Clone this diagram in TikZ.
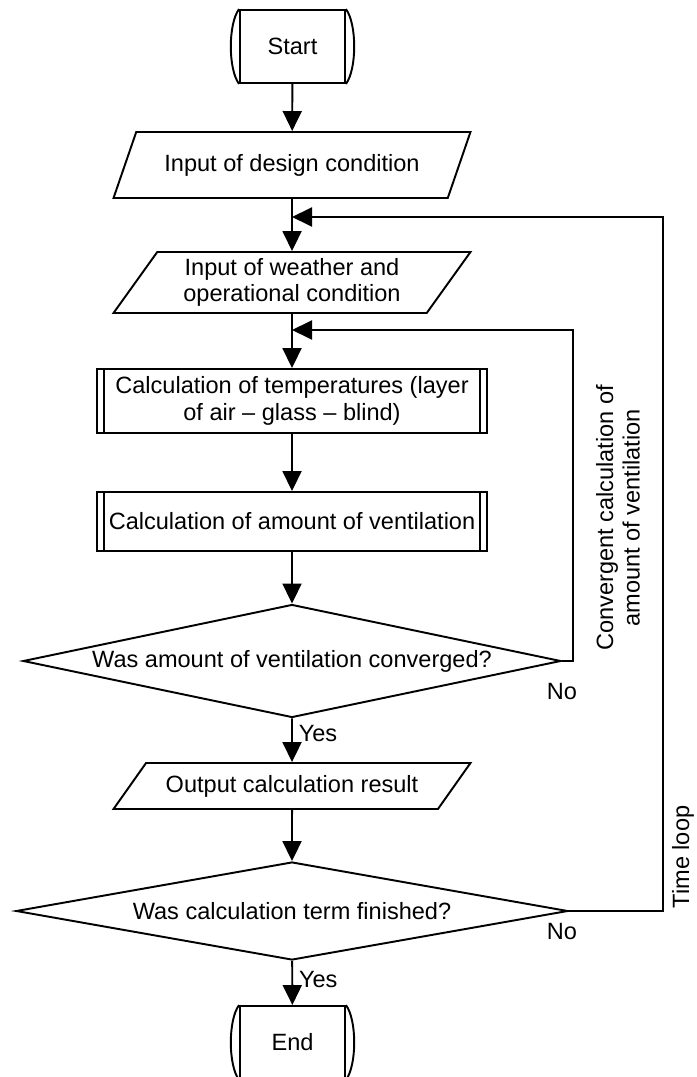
\documentclass[tikz,border=0pt]{standalone}
\usepackage{fontspec}
\setmainfont{Liberation Sans}
\usetikzlibrary{shapes.geometric,arrows.meta}

\tikzset{
  terminal/.style={draw, rectangle, minimum width=2.1cm, minimum height=1.46cm},
  inout/.style={draw, trapezium, trapezium stretches body, minimum width=7.14cm},
  process/.style={draw, rectangle, minimum width=7.8cm},
  decision/.style={draw, diamond, inner sep=0pt},
  arr/.style={-{Triangle[length=0.4cm,width=0.38cm]}}
}

\begin{document}
\begin{tikzpicture}[x=0.02cm, y=-0.02cm, line width=1.1pt, font=\fontsize{13.4}{15.1}\selectfont]
            \useasboundingbox (0,0) rectangle (696,1077);
            \node[terminal] (start) at (292.5,46.5) {Start};
            \node[inout, trapezium left angle=56, trapezium right angle=124, minimum height=1.32cm] (design) at (292,165) {Input of design condition};
            \node[inout, trapezium left angle=54, trapezium right angle=126, minimum height=1.22cm, align=center] (weather) at (292,282.5) {Input of weather and\\operational condition};
            \node[process, minimum height=1.28cm, align=center] (temp) at (292,401) {Calculation of temperatures (layer\\of air -- glass -- blind)};
            \node[process, minimum height=1.18cm] (vent) at (292,521.5) {Calculation of amount of ventilation};
            \node[decision, shape aspect=4.76, minimum width=10.76cm, minimum height=2.26cm] (conv) at (292,661) {Was amount of ventilation converged?};
            \node[inout, trapezium left angle=46, trapezium right angle=134, minimum height=0.92cm] (output) at (292,786) {Output calculation result};
            \node[decision, shape aspect=5.63, minimum width=11.04cm, minimum height=1.96cm] (term) at (292,911) {Was calculation term finished?};
            \node[terminal] (end) at (292.5,1042.5) {End};
            \foreach \n in {start,end} {
                \draw (\n.north west) .. controls +(-11,15) and +(-11,-15) .. (\n.south west);
                \draw (\n.north east) .. controls +(11,15) and +(11,-15) .. (\n.south east);
            }
            \foreach \n in {temp,vent} {
                \draw ([xshift=0.16cm]\n.north west) -- ([xshift=0.16cm]\n.south west);
                \draw ([xshift=-0.16cm]\n.north east) -- ([xshift=-0.16cm]\n.south east);
            }
            \draw[arr] (start) -- (design);
            \draw[arr] (design) -- (weather);
            \draw[arr] (weather) -- (temp);
            \draw[arr] (temp) -- (vent);
            \draw[arr] (vent) -- (conv);
            \draw[arr] (conv) -- node[right, pos=0.35] {Yes} (output);
            \draw[arr] (output) -- (term);
            \draw[arr] (term) -- node[right, pos=0.43] {Yes} (end);
            \coordinate (convR) at (573,661);
            \coordinate (convT) at (573,330);
            \coordinate (convIn) at (292,330);
            \draw[arr] (conv.east) -- (convR) -- (convT) -- (convIn);
            \coordinate (termR) at (663,911);
            \coordinate (termT) at (663,217);
            \coordinate (termIn) at (292,217);
            \draw[arr] (term.east) -- (termR) -- (termT) -- (termIn);
            \node (no1) at (562,692) {No};
            \node (no2) at (562,932) {No};
            \node[rotate=90, align=center] (convlabel) at (618,518) {Convergent calculation of\\amount of ventilation};
            \node[rotate=90] (timelabel) at (683,857) {Time loop};
        \end{tikzpicture}
\end{document}
